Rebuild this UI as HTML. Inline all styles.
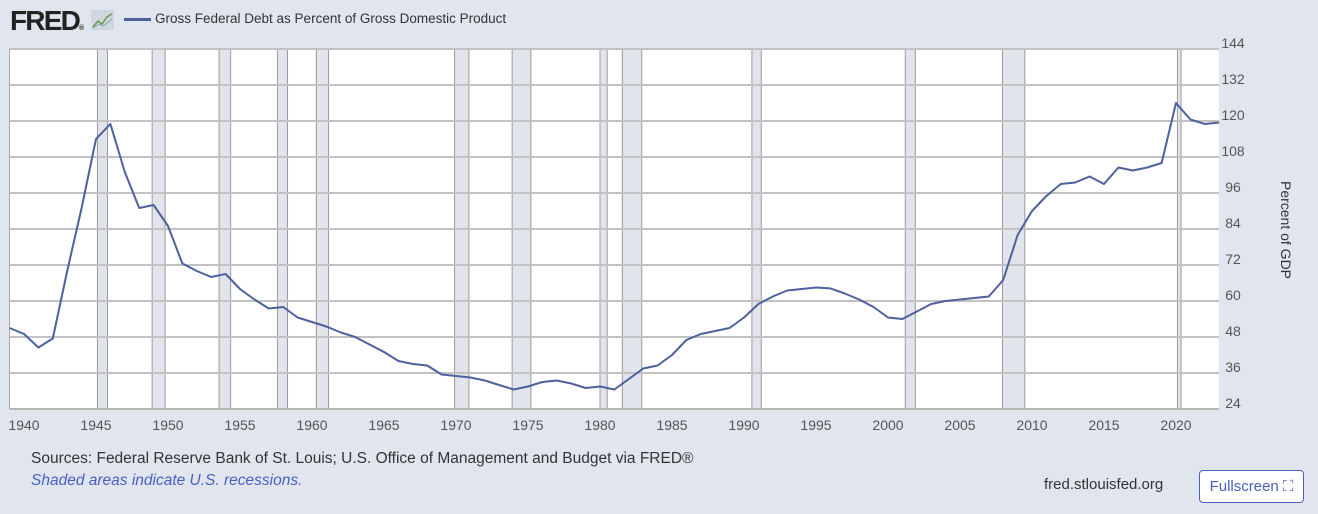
<!DOCTYPE html>
<html><head><meta charset="utf-8"><style>
body{margin:0;width:1318px;height:514px;background:#e1e6ee;font-family:"Liberation Sans",sans-serif;overflow:hidden;position:relative}
.t{position:absolute;white-space:nowrap}
</style></head><body>
<div class="t" style="left:10px;top:5px;font-size:28px;font-weight:bold;color:#222;letter-spacing:-1.8px">FRED<span style="font-size:7px;letter-spacing:0">®</span></div>
<svg class="t" style="left:91px;top:10px" width="23" height="20"><rect width="23" height="20" fill="#cfd6e0"/><polyline points="2,17 7,11 11,14 16,7 21,4" fill="none" stroke="#6a9a4a" stroke-width="1.5"/><polyline points="2,18 8,14 12,16 21,9" fill="none" stroke="#8aa" stroke-width="1"/></svg>
<div class="t" style="left:124px;top:11px;font-size:13.5px;color:#333"><span style="display:inline-block;width:27px;height:3px;background:#4e609e;vertical-align:middle;margin-right:4px"></span>Gross Federal Debt as Percent of Gross Domestic Product</div>
<svg id="chart" class="t" style="left:0;top:0" width="1318" height="440"></svg>
<div class="t" style="left:1286px;top:230px;font-size:14px;color:#333;transform:translate(-50%,-50%) rotate(90deg)">Percent of GDP</div>
<div class="t" style="left:31px;top:450px;font-size:15.5px;color:#333">Sources: Federal Reserve Bank of St. Louis; U.S. Office of Management and Budget via FRED®</div>
<div class="t" style="left:31px;top:472px;font-size:15.5px;color:#4a5fc1;font-style:italic">Shaded areas indicate U.S. recessions.</div>
<div class="t" style="left:1044px;top:476px;font-size:15px;color:#333">fred.stlouisfed.org</div>
<div class="t" style="left:1199px;top:470px;width:103px;height:31px;border:1px solid #4a5fc1;border-radius:4px;background:#fff;color:#4a5fc1;font-size:15px;line-height:31px;text-align:center">Fullscreen ⛶</div>
<script>
const years=[];for(let y=1939;y<=2023;y++)years.push(y);
const debt=[51,49,44.5,47.5,70,91,114,119,103,91,92,85,72.5,70,68,69,64,60.5,57.5,58,54.5,53,51.5,49.5,48,45.5,43,40,39,38.5,35.5,35,34.5,33.5,32,30.5,31.5,33,33.5,32.5,31,31.5,30.5,34,37.5,38.5,42,47,49,50,51,54.5,59,61.5,63.5,64,64.5,64.2,62.5,60.5,58,54.5,54,56.5,59,60,60.5,61,61.5,67,82,90,95,99,99.5,101.5,99,104.5,103.5,104.5,106,126,120.5,119,119.5];
const recStart=[1945.1,1948.9,1953.55,1957.6,1960.3,1969.9,1973.9,1980.0,1981.55,1990.55,2001.2,2007.95,2020.1];
const recEnd=[1945.8,1949.8,1954.35,1958.3,1961.15,1970.9,1975.2,1980.5,1982.9,1991.2,2001.9,2009.5,2020.35];
const yTicks=[24,36,48,60,72,84,96,108,120,132,144];
const xTicks=[1940,1945,1950,1955,1960,1965,1970,1975,1980,1985,1990,1995,2000,2005,2010,2015,2020];
const L=9.5,R=1219,T=49,B=409;
const x=v=>24+(v-1940)*14.4;
const y=v=>B-(v-24)*3;
const s=document.getElementById('chart');const NS='http://www.w3.org/2000/svg';
function mk(t,a){const e=document.createElementNS(NS,t);for(const k in a)e.setAttribute(k,a[k]);s.appendChild(e);return e;}
let bg=mk('rect',{x:L,y:T,width:R-L,height:B-T,fill:'#fff'});


recStart.forEach((a,i)=>{const r=mk('rect',{x:x(a),y:T,width:x(recEnd[i])-x(a),height:B-T,fill:'#e1e5eb',stroke:'#999','stroke-width':1});

});
yTicks.forEach(v=>{const g=mk('line',{x1:L,x2:R,y1:y(v),y2:y(v),stroke:'#c2c2c2','stroke-width':2});


const t=mk('text',{x:1233,y:y(v)-1,'text-anchor':'middle','font-size':14,fill:'#555','font-family':'Liberation Sans'});t.textContent=v;

});
mk('line',{x1:L,x2:L,y1:T,y2:B,stroke:'#aaa','stroke-width':1});
mk('line',{x1:L,x2:R,y1:B,y2:B,stroke:'#aaa','stroke-width':1});
xTicks.forEach(v=>{const t=mk('text',{x:x(v),y:430,'text-anchor':'middle','font-size':14,fill:'#555','font-family':'Liberation Sans'});t.textContent=v;

});
const p=mk('polyline',{points:years.map((yr,i)=>x(yr)+','+y(debt[i])).join(' '),fill:'none',stroke:'#4e609e','stroke-width':2,'stroke-linejoin':'round'});


</script>
</body></html>
